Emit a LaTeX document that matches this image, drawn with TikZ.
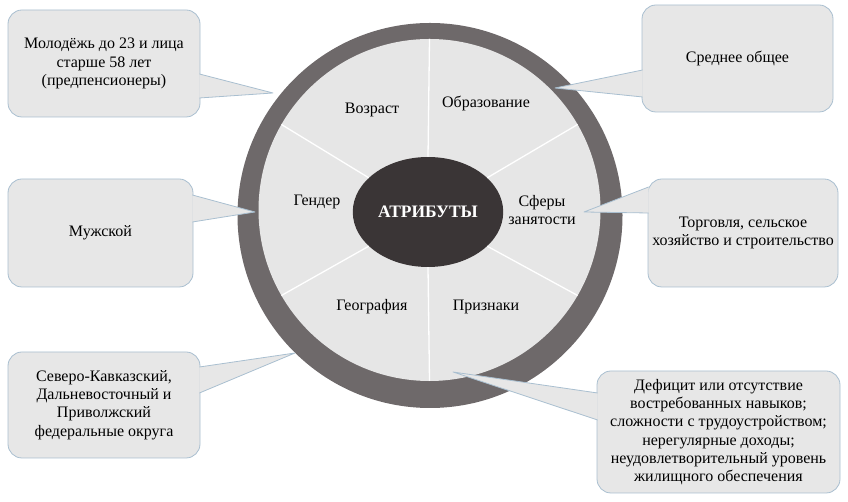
\documentclass[tikz,border=0pt]{standalone}
\usepackage{fontspec}
\setmainfont{Liberation Serif}
\usetikzlibrary{positioning, shapes}

\definecolor{ringgray}{HTML}{6E696A}
\definecolor{discgray}{HTML}{E6E6E6}
\definecolor{coregray}{HTML}{3A3536}
\definecolor{boxfill}{HTML}{E7E7E7}
\definecolor{boxline}{HTML}{A9BFD0}

\begin{document}
\begin{tikzpicture}[x=1pt, y=1pt, every node/.style={align=center, font=\fontsize{16}{18.3}\selectfont},
        callout/.style={draw=boxline, fill=boxfill, line width=0.8pt, rounded corners=14pt},
        pointer/.style={draw=boxline, fill=boxfill, line width=0.8pt, line join=round}]
    \useasboundingbox (0,0) rectangle (848,502);

    % wheel
    \coordinate (hub) at (429.5,292);
    \fill[ringgray] (430,286.5) circle (192.5);
    \fill[discgray] (hub) circle (171);
    \node (core) [ellipse, fill=coregray, minimum width=126pt, minimum height=110pt, text=white, font=\bfseries\fontsize{17.5}{18}\selectfont] at (428,290) {АТРИБУТЫ};
    \foreach \a in {30,90,150,210,270,330}
        \draw[white, line width=1.3pt] (core.\a) -- ([shift={(hub)}]\a:171);

    % sectors
    \node (age) at (372,392) {Возраст};
    \node (education) at (486,399) {Образование};
    \node (gender) at (317,300) {Гендер};
    \node (employment) at (542,292) {Сферы\\занятости};
    \node (geography) at (372,195) {География};
    \node (signs) at (486,195) {Признаки};

    % callouts
    \node (agebox) [callout, minimum width=192pt, minimum height=107pt] at (104,438.5) {Молодёжь до 23 и лица\\старше 58 лет\\(предпенсионеры)};
    \node (edubox) [callout, minimum width=191pt, minimum height=107pt] at (737.5,443.5) {Среднее общее};
    \node (genderbox) [callout, minimum width=185pt, minimum height=108pt] at (100.5,269) {Мужской};
    \node (employbox) [callout, minimum width=190pt, minimum height=108pt] at (743,269) {Торговля, сельское\\хозяйство и строительство};
    \node (geobox) [callout, minimum width=192pt, minimum height=106pt] at (104,97) {Северо-Кавказский,\\Дальневосточный и\\Приволжский\\федеральные округа};
    \node (signsbox) [callout, minimum width=243pt, minimum height=122pt] at (718.5,70) {Дефицит или отсутствие\\востребованных навыков;\\сложности с трудоустройством;\\нерегулярные доходы;\\неудовлетворительный уровень\\жилищного обеспечения};

    \coordinate (agetip) at (273,409);
    \coordinate (edutip) at (555,414);
    \coordinate (gendertip) at (255,290);
    \coordinate (employtip) at (584,290);
    \coordinate (geotip) at (295,149);
    \coordinate (signstip) at (453,130);

    \draw[pointer] ([xshift=-1pt, yshift=-10.5pt]agebox.east) -- (agetip) -- ([xshift=-1pt, yshift=-34.5pt]agebox.east);
    \draw[pointer] ([xshift=1pt, yshift=-11.5pt]edubox.west) -- (edutip) -- ([xshift=1pt, yshift=-38.5pt]edubox.west);
    \draw[pointer] ([xshift=-1pt, yshift=38pt]genderbox.east) -- (gendertip) -- ([xshift=-1pt, yshift=11pt]genderbox.east);
    \draw[pointer] ([xshift=1pt, yshift=46pt]employbox.west) -- (employtip) -- ([xshift=1pt, yshift=20pt]employbox.west);
    \draw[pointer] ([xshift=-1pt, yshift=38pt]geobox.east) -- (geotip) -- ([xshift=-1pt, yshift=12pt]geobox.east);
    \draw[pointer] ([xshift=1pt, yshift=39pt]signsbox.west) -- (signstip) -- ([xshift=1pt, yshift=12pt]signsbox.west);
\end{tikzpicture}
\end{document}
